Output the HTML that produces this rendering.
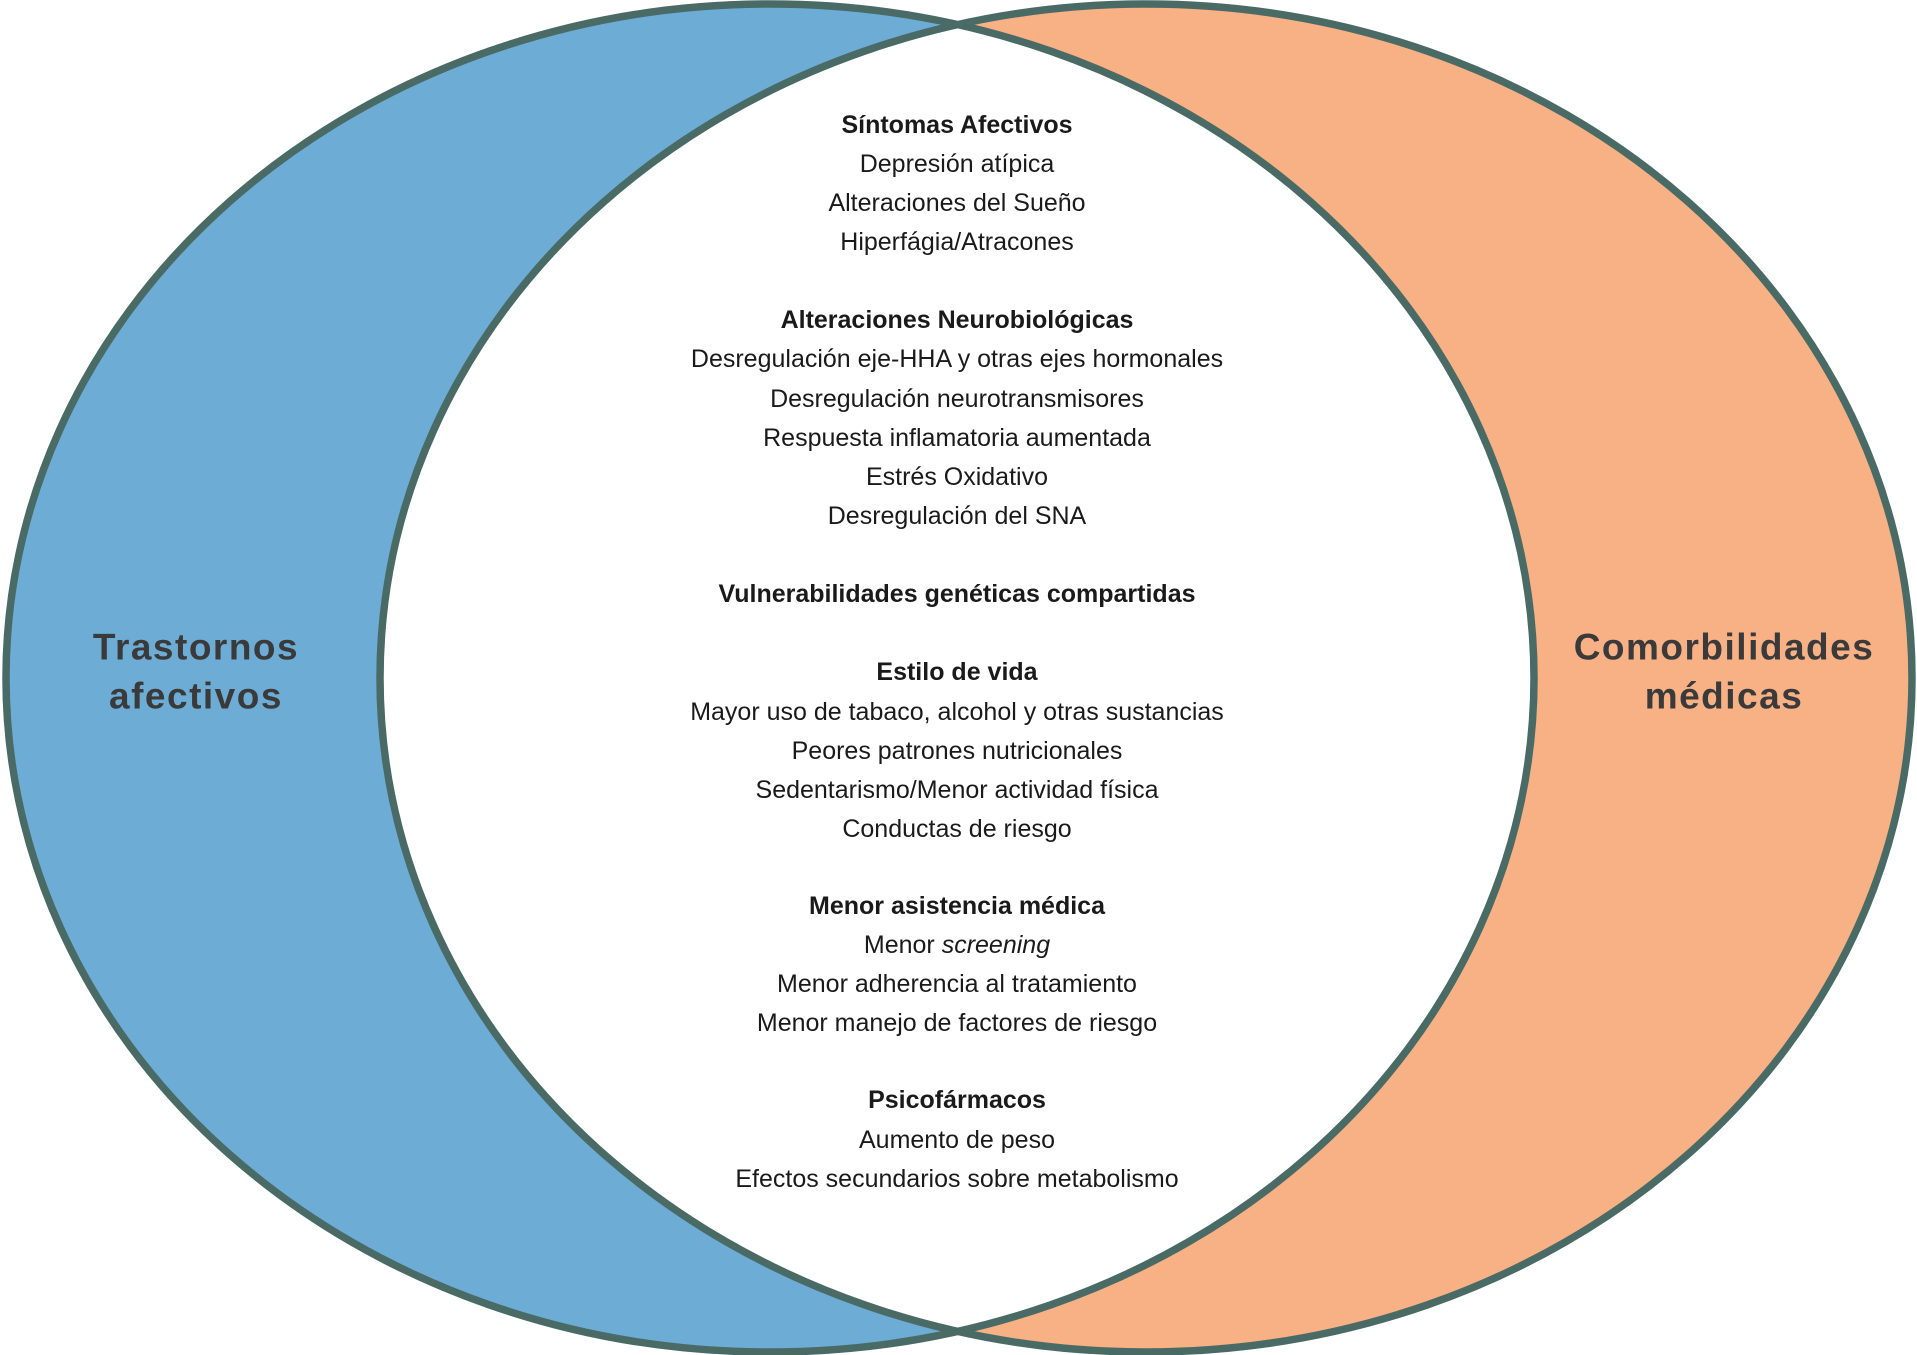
<!DOCTYPE html>
<html><head><meta charset="utf-8"><style>
html,body{margin:0;padding:0;background:#fff;}
svg{display:block;}
.t{font-family:"Liberation Sans",sans-serif;font-size:25px;fill:#1a1a1a;text-anchor:middle;dominant-baseline:central;}
.b{font-weight:bold;}
.s{font-family:"Liberation Sans",sans-serif;font-size:37px;font-weight:bold;fill:#3a3a3a;text-anchor:middle;dominant-baseline:central;letter-spacing:1.5px;}
</style></head><body>
<svg width="1917" height="1355" viewBox="0 0 1917 1355" xmlns="http://www.w3.org/2000/svg">
<defs><clipPath id="cl"><ellipse cx="770" cy="678" rx="764" ry="674"/></clipPath></defs>
<rect width="1917" height="1355" fill="#fff"/>
<ellipse cx="770" cy="678" rx="764" ry="674" fill="#6dadd5"/>
<ellipse cx="1146" cy="678" rx="766" ry="674" fill="#f8b085"/>
<ellipse cx="1146" cy="678" rx="766" ry="674" fill="#fff" clip-path="url(#cl)"/>
<ellipse cx="770" cy="678" rx="764" ry="674" fill="none" stroke="#4a6b65" stroke-width="7.5"/>
<ellipse cx="1146" cy="678" rx="766" ry="674" fill="none" stroke="#4a6b65" stroke-width="7.5"/>
<text class="s" x="196" y="647">Trastornos</text>
<text class="s" x="196" y="696">afectivos</text>
<text class="s" x="1724" y="647">Comorbilidades</text>
<text class="s" x="1724" y="696">médicas</text>
<g>
<text class="t b" x="957" y="125">Síntomas Afectivos</text>
<text class="t" x="957" y="164">Depresión atípica</text>
<text class="t" x="957" y="203">Alteraciones del Sueño</text>
<text class="t" x="957" y="242">Hiperfágia/Atracones</text>
<text class="t b" x="957" y="320">Alteraciones Neurobiológicas</text>
<text class="t" x="957" y="359">Desregulación eje-HHA y otras ejes hormonales</text>
<text class="t" x="957" y="399">Desregulación neurotransmisores</text>
<text class="t" x="957" y="438">Respuesta inflamatoria aumentada</text>
<text class="t" x="957" y="477">Estrés Oxidativo</text>
<text class="t" x="957" y="516">Desregulación del SNA</text>
<text class="t b" x="957" y="594">Vulnerabilidades genéticas compartidas</text>
<text class="t b" x="957" y="672">Estilo de vida</text>
<text class="t" x="957" y="712">Mayor uso de tabaco, alcohol  y otras sustancias</text>
<text class="t" x="957" y="751">Peores patrones nutricionales</text>
<text class="t" x="957" y="790">Sedentarismo/Menor actividad física</text>
<text class="t" x="957" y="829">Conductas de riesgo</text>
<text class="t b" x="957" y="906">Menor asistencia médica</text>
<text class="t" x="957" y="945">Menor <tspan font-style="italic">screening</tspan></text>
<text class="t" x="957" y="984">Menor adherencia al tratamiento</text>
<text class="t" x="957" y="1023">Menor manejo de factores de riesgo</text>
<text class="t b" x="957" y="1100">Psicofármacos</text>
<text class="t" x="957" y="1140">Aumento de peso</text>
<text class="t" x="957" y="1179">Efectos secundarios sobre metabolismo</text>
</g>
</svg>
</body></html>
